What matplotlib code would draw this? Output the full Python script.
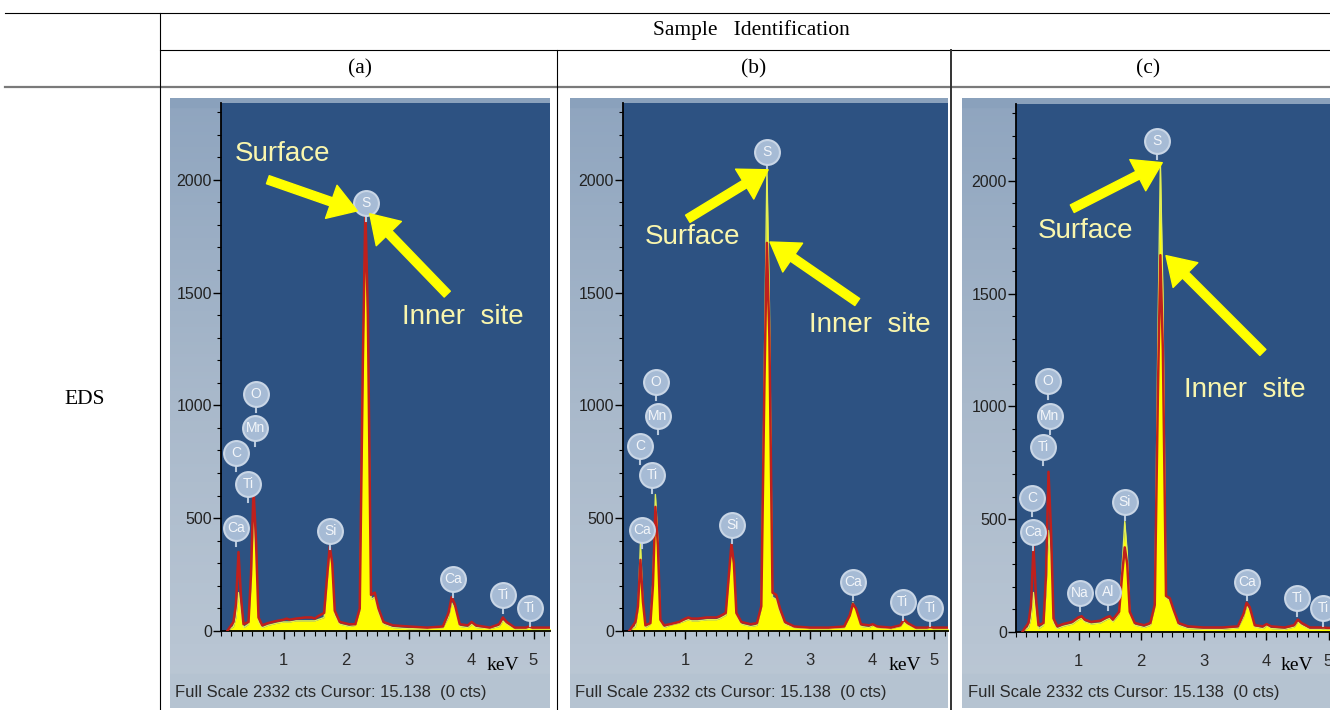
import numpy as np
import matplotlib
matplotlib.use("Agg")
import matplotlib.pyplot as plt
from matplotlib.colors import LinearSegmentedColormap
from matplotlib.ticker import MultipleLocator

plt.rcParams['font.family'] = ['Liberation Sans', 'DejaVu Sans']

# energy grid (keV)
energy = [0.10, 0.20, 0.24, 0.28, 0.32, 0.36, 0.44, 0.48, 0.52, 0.56, 0.60, 0.66, 0.75, 0.90,
          1.00, 1.05, 1.10, 1.20, 1.35, 1.45, 1.50, 1.55, 1.65, 1.70, 1.74, 1.78, 1.82, 1.90,
          2.05, 2.15, 2.22, 2.27, 2.31, 2.35, 2.40, 2.46, 2.52, 2.60, 2.75, 3.00, 3.30, 3.55,
          3.64, 3.69, 3.74, 3.82, 3.95, 4.01, 4.08, 4.30, 4.45, 4.51, 4.57, 4.70, 4.88, 4.93,
          4.98, 5.10, 5.30]

# counts, sample (a)
surf_a = [0, 20, 60, 170, 80, 15, 30, 200, 520, 300, 40, 15, 25, 35,
          40, 40, 40, 45, 45, 45, 45, 50, 60, 220, 350, 280, 70, 30,
          20, 25, 90, 1150, 1840, 1350, 140, 150, 80, 30, 15, 10, 10, 15,
          60, 125, 100, 20, 15, 30, 15, 10, 20, 45, 30, 10, 10, 12,
          10, 10, 10]
inner_a = [0, 40, 120, 350, 150, 30, 40, 250, 630, 400, 60, 25, 35, 45,
           50, 55, 50, 55, 60, 60, 55, 65, 80, 250, 375, 300, 90, 40,
           30, 30, 100, 1200, 1870, 1400, 160, 170, 100, 40, 25, 20, 15, 20,
           80, 150, 120, 30, 25, 40, 25, 15, 30, 60, 40, 15, 15, 20,
           15, 15, 15]

# counts, sample (b)
surf_b = [0, 20, 90, 390, 120, 15, 30, 220, 605, 400, 40, 15, 25, 35,
          45, 50, 45, 45, 50, 50, 50, 55, 70, 230, 365, 290, 70, 30,
          20, 25, 100, 1200, 2045, 1450, 150, 140, 80, 30, 15, 10, 10, 15,
          65, 125, 95, 20, 15, 25, 15, 10, 20, 40, 28, 10, 10, 12,
          10, 10, 10]
inner_b = [0, 40, 110, 315, 130, 25, 35, 200, 550, 380, 50, 25, 30, 40,
           55, 60, 55, 55, 60, 60, 60, 65, 80, 250, 385, 300, 80, 40,
           30, 35, 110, 1100, 1720, 1300, 170, 160, 100, 40, 20, 15, 15, 20,
           70, 120, 100, 30, 25, 30, 20, 15, 25, 50, 35, 15, 15, 18,
           15, 15, 15]

# counts, sample (c)
surf_c = [0, 20, 60, 175, 70, 15, 30, 170, 450, 300, 40, 15, 25, 35,
          55, 60, 45, 35, 40, 55, 60, 45, 80, 300, 490, 350, 80, 30,
          20, 30, 110, 1300, 2080, 1500, 150, 140, 90, 30, 15, 12, 12, 18,
          65, 115, 95, 22, 15, 28, 15, 12, 22, 45, 30, 12, 12, 14,
          12, 12, 12]
inner_c = [0, 40, 120, 380, 150, 30, 40, 250, 710, 450, 60, 25, 35, 45,
           65, 70, 55, 45, 50, 65, 70, 55, 90, 260, 375, 300, 90, 40,
           30, 40, 120, 1050, 1670, 1250, 160, 150, 100, 40, 25, 20, 20, 25,
           80, 130, 110, 30, 25, 35, 25, 20, 30, 55, 40, 20, 20, 20,
           18, 18, 18]

# element markers (name, keV, counts)
peaks_a = [("Ca", 0.24, 455), ("C", 0.24, 790), ("Ti", 0.43, 650), ("Mn", 0.55, 900),
           ("O", 0.56, 1050), ("Si", 1.75, 445), ("S", 2.32, 1895), ("Ca", 3.71, 230),
           ("Ti", 4.51, 160), ("Ti", 4.94, 102)]
peaks_b = [("Ca", 0.30, 449), ("C", 0.27, 818), ("Ti", 0.47, 693), ("Mn", 0.56, 951),
           ("O", 0.53, 1102), ("Si", 1.75, 471), ("S", 2.31, 2124), ("Ca", 3.69, 218),
           ("Ti", 4.49, 129), ("Ti", 4.93, 102)]
peaks_c = [("Ca", 0.27, 444), ("C", 0.26, 596), ("Ti", 0.43, 818), ("Mn", 0.54, 956),
           ("O", 0.51, 1111), ("Na", 1.02, 173), ("Al", 1.47, 178), ("Si", 1.74, 578),
           ("S", 2.26, 2178), ("Ca", 3.70, 222), ("Ti", 4.50, 151), ("Ti", 4.91, 107)]

# arrows: (text, text pos, arrow tail, arrow head) in keV / counts
notes_a = [("Surface", (0.99, 2116), (0.75, 2000), (2.18, 1862)),
           ("Inner  site", (3.87, 1391), (3.62, 1493), (2.38, 1849))]
notes_b = [("Surface", (1.11, 1747), (1.04, 1827), (2.33, 2044)),
           ("Inner  site", (3.96, 1356), (3.76, 1458), (2.36, 1724))]
notes_c = [("Surface", (1.12, 1779), (0.90, 1876), (2.34, 2080)),
           ("Inner  site", (3.66, 1071), (3.95, 1239), (2.40, 1668))]

W, H = 1330, 710


def rect(x0, y0, x1, y1):
    return [x0 / W, 1 - y1 / H, (x1 - x0) / W, (y1 - y0) / H]


fig = plt.figure(figsize=(W / 100, H / 100), dpi=100)

# table grid in pixel coordinates
tab = fig.add_axes([0, 0, 1, 1], zorder=0)
tab.set_xlim(0, W)
tab.set_ylim(H, 0)
tab.axis('off')
tab.plot([5, W], [13, 13], color='black', lw=0.8)
tab.plot([160, W], [50, 50], color='black', lw=0.8)
tab.plot([5, W], [87, 87], color='#7a7a7a', lw=1.6)
tab.plot([160, 160], [13, H], color='black', lw=0.8)
tab.plot([557, 557], [50, H], color='black', lw=0.8)
tab.plot([951, 951], [50, H], color='#333333', lw=1.4)
serif = ['Liberation Serif', 'DejaVu Serif']
tab.text(751, 30, "Sample   Identification", ha='center', va='center', fontsize=15.5, family=serif)
tab.text(360, 69, "(a)", ha='center', va='center', fontsize=15.5, family=serif)
tab.text(754, 69, "(b)", ha='center', va='center', fontsize=15.5, family=serif)
tab.text(1148, 69, "(c)", ha='center', va='center', fontsize=15.5, family=serif)
tab.text(85, 400, "EDS", ha='center', va='center', fontsize=15.5, family=serif)

frame_cmap = LinearSegmentedColormap.from_list('frame', ['#8fa5bf', '#a9b9cb', '#bcc8d5'])

panels = [
    # frame px, plot px, xmax, spectra, peaks, notes, keV x, status x
    ((170, 98, 550, 708), (221, 103, 550, 631), 5.264, surf_a, inner_a, peaks_a, notes_a, 503, 175),
    ((570, 98, 948, 708), (623, 103, 948, 631), 5.217, surf_b, inner_b, peaks_b, notes_b, 905, 575),
    ((962, 98, 1330, 708), (1016, 104, 1330, 632), 5.024, surf_c, inner_c, peaks_c, notes_c, 1297, 968),
]

for frame_px, plot_px, xmax, surf, inner, peaks, notes, kev_x, stat_x in panels:
    # screenshot background
    fr = fig.add_axes(rect(*frame_px), zorder=1)
    fr.imshow(np.linspace(0, 1, 200).reshape(-1, 1), cmap=frame_cmap, aspect='auto',
              extent=[0, 1, 0, 1])
    fr.axhspan(0.985, 1.0, color='#8aa1bc')
    fr.axhspan(0.0, 0.055, color='#b5c3d1')
    fr.set_xlim(0, 1)
    fr.set_ylim(0, 1)
    fr.axis('off')

    ax = fig.add_axes(rect(*plot_px), zorder=2)
    ax.set_facecolor('#2d5282')
    ax.set_xlim(0, xmax)
    ax.set_ylim(0, 2340)
    for s in ['top', 'right']:
        ax.spines[s].set_visible(False)
    for s in ['left', 'bottom']:
        ax.spines[s].set_color('black')
        ax.spines[s].set_linewidth(1.3)

    ax.fill_between(energy, surf, color='#ffff00', lw=0, zorder=2)
    ax.plot(energy, surf, color='#e4ef55', lw=1.0, zorder=2)
    ax.plot(energy, inner, color='#c0201c', lw=1.8, zorder=3)

    for name, x, y in peaks:
        ax.plot([x, x], [y - 80, y - 50], color='#b9c9dc', lw=1.5, zorder=4)
        ax.scatter([x], [y], s=320, c='#a6bbd5', edgecolors='#c9d6e6', linewidths=1.5, zorder=5)
        ax.text(x, y, name, ha='center', va='center', color='#f3f6fa', fontsize=10, zorder=6)

    for label, tpos, tail, head in notes:
        ax.annotate('', xy=head, xytext=tail, zorder=7,
                    arrowprops=dict(arrowstyle='simple,head_length=0.55,head_width=0.7,tail_width=0.17',
                                    color='#ffff00', shrinkA=0, shrinkB=0, mutation_scale=36))
        ax.text(tpos[0], tpos[1], label, ha='center', va='center', color='#faf6ad',
                fontsize=20, zorder=8)

    ax.set_yticks([0, 500, 1000, 1500, 2000])
    ax.yaxis.set_minor_locator(MultipleLocator(100))
    ax.set_xticks([1, 2, 3, 4, 5])
    ax.xaxis.set_minor_locator(MultipleLocator(1 / 6))
    ax.tick_params(axis='y', which='major', direction='out', length=6, width=1, pad=0.5,
                   labelsize=11.5, labelcolor='#222222')
    ax.tick_params(axis='y', which='minor', direction='out', length=3, width=0.8)
    ax.tick_params(axis='x', which='major', direction='out', length=6, width=1, pad=10,
                   labelsize=12, labelcolor='#2a2a2a')
    ax.tick_params(axis='x', which='minor', direction='out', length=3.5, width=0.8)

    top = fig.add_axes([0, 0, 1, 1], zorder=3)
    top.set_xlim(0, W)
    top.set_ylim(H, 0)
    top.axis('off')
    top.text(kev_x, 666, 'keV', ha='center', va='center', fontsize=14, family=serif)
    top.text(stat_x, 692, 'Full Scale 2332 cts Cursor: 15.138  (0 cts)', ha='left', va='center',
             fontsize=12, color='#2a2a2a')

fig.savefig('out.png', dpi=100)
